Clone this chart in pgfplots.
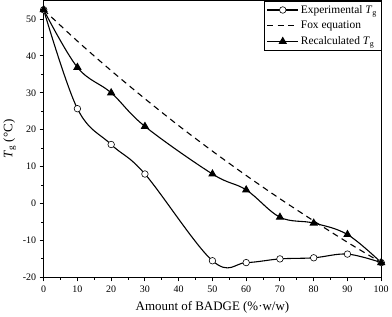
\documentclass[border=0pt]{standalone}
\usepackage{pgfplots}
\pgfplotsset{compat=1.18}
\usepackage{fontspec}
\setmainfont{Liberation Serif}

\begin{document}
\begin{tikzpicture}
\begin{axis}[
    scale only axis,
    width=339pt, height=278pt,
    xmin=0, xmax=100,
    ymin=-20, ymax=55,
    xtick={0,10,...,100},
    ytick={-20,-10,...,50},
    minor x tick num=1,
    minor y tick num=1,
    tick align=outside,
    tick pos=left,
    major tick length=4pt,
    minor tick length=2.5pt,
    axis line style={line width=1.1pt},
    every tick/.style={black, line width=0.9pt},
    ticklabel style={font=\fontsize{10}{11}\selectfont},
    xticklabel style={yshift=-1pt},
    /pgf/number format/assume math mode=true,
    xlabel={Amount of BADGE (\%·w/w)},
    ylabel={\textit{T}\textsubscript{g} (°C)},
    label style={font=\fontsize{13}{14}\selectfont},
    xlabel style={yshift=-2pt},
    legend style={at={(1,1)}, anchor=north east, draw=black, line width=0.5pt,
        font=\fontsize{11.5}{14}\selectfont, cells={anchor=west},
        inner xsep=2pt, inner ysep=2.5pt, row sep=2.5pt},
    legend image code/.code={
        \draw[#1, mark=none] (0cm,0cm) -- (1.1cm,0cm);
        \draw[#1, only marks] plot coordinates {(0.55cm,0cm)};},
]
\addplot[black, line width=1.1pt, smooth, tension=0.6,
    mark=*, mark size=3.3pt, mark options={fill=white, draw=black, line width=0.6pt}]
coordinates {(0,52.5) (10,25.7) (20,16) (30,8) (50,-15.5) (60,-16)
    (70,-15) (80,-14.7) (90,-13.7) (100,-16)};
\addlegendentry{Experimental \textit{T}\textsubscript{g}}

\addplot[black, line width=1.1pt, dash pattern=on 6pt off 4.5pt, smooth]
coordinates {(0,52.5) (10,44.0) (20,36.0) (30,28.4) (40,21.1) (50,14.2)
    (60,7.6) (70,1.3) (80,-4.7) (90,-10.5) (100,-16)};
\addlegendentry{Fox equation}

\addplot[black, line width=1.1pt, smooth, tension=0.6,
    mark=triangle*, mark size=3.8pt, mark options={solid, fill=black}]
coordinates {(0,52.5) (10,36.9) (20,30) (30,20.9) (50,8) (60,3.7)
    (70,-3.7) (80,-5.3) (90,-8.4) (100,-16)};
\addlegendentry{Recalculated \textit{T}\textsubscript{g}}
\end{axis}
\end{tikzpicture}
\end{document}
